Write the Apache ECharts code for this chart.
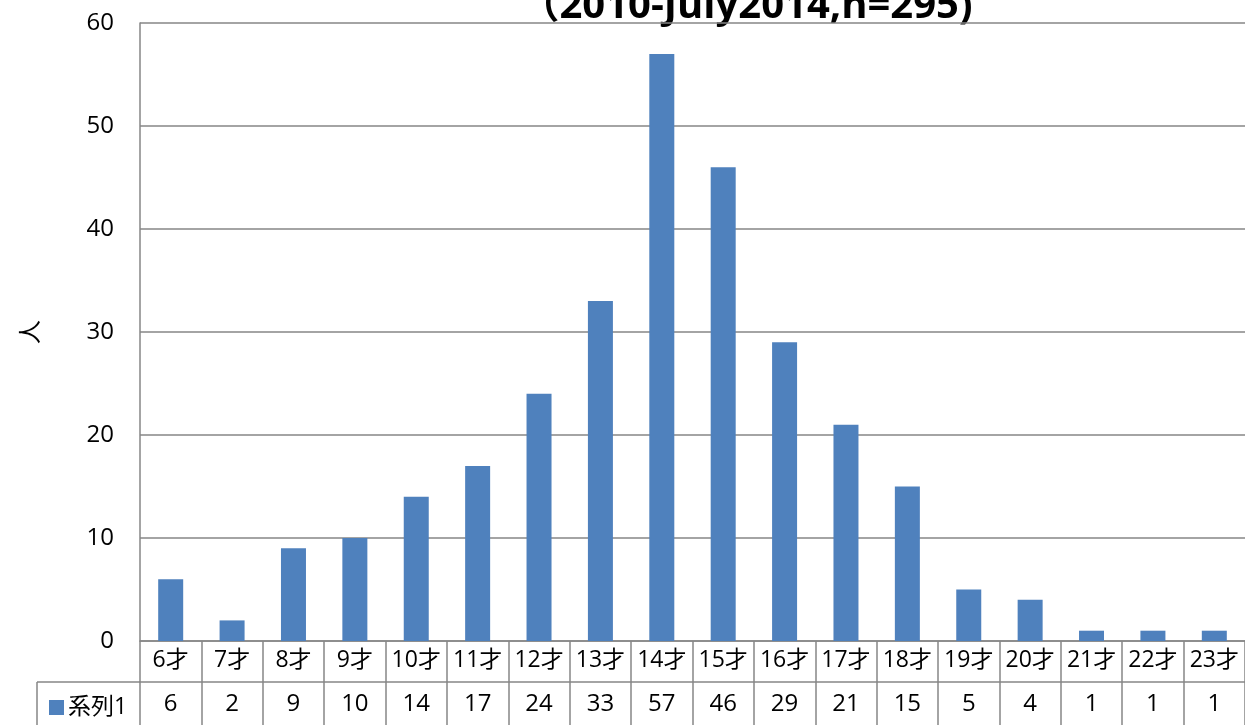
<!DOCTYPE html>
<html>
<head>
<meta charset="utf-8">
<script src="https://cdn.jsdelivr.net/npm/echarts@6/dist/echarts.min.js"></script>
<style>
  html, body { margin: 0; padding: 0; background: #fff; }
  #chart { width: 1245px; height: 725px; }
</style>
</head>
<body>
<div id="chart"></div>
<script>
// 年齢ごとの人数
var ages = ['6才', '7才', '8才', '9才', '10才', '11才', '12才', '13才', '14才',
  '15才', '16才', '17才', '18才', '19才', '20才', '21才', '22才', '23才']
var counts = [6, 2, 9, 10, 14, 17, 24, 33, 57, 46, 29, 21, 15, 5, 4, 1, 1, 1]
var seriesName = '系列1'
var titleText = '（2010-July2014,n=295)'

var lineColor = '#868686'
var font = '"Open Sans", "Noto Sans CJK JP", sans-serif'

var chart = echarts.init(document.getElementById('chart'))
chart.setOption({
  animation: false,
  legend: {
    data: [seriesName],
    left: 44,
    top: 691,
    icon: 'rect',
    itemWidth: 15,
    itemHeight: 15,
    itemGap: 4,
    textStyle: { fontSize: 23, color: '#000', fontFamily: font, padding: [0, 0, 0, -1] }
  },
  grid: { left: 140, right: -5, top: 23, bottom: 84 },
  xAxis: [{
    type: 'category',
    data: ages,
    position: 'bottom',
    axisLine: { show: true, lineStyle: { color: lineColor, width: 1.5 } },
    axisTick: { show: true, interval: 0, length: 84, alignWithLabel: false, lineStyle: { color: lineColor, width: 1.5 } },
    axisLabel: { interval: 0, margin: 8, fontSize: 23, color: '#000', fontFamily: font }
  }, {
    type: 'category',
    data: ages,
    position: 'bottom',
    offset: 41,
    axisLine: { show: true, lineStyle: { color: lineColor, width: 1.5 } },
    axisTick: { show: false },
    axisLabel: {
      interval: 0, margin: 10, fontSize: 24, color: '#000', fontFamily: font,
      formatter: function(v, i) { return String(counts[i]) }
    }
  }],
  yAxis: {
    type: 'value',
    min: 0,
    max: 60,
    interval: 10,
    name: '人',
    nameLocation: 'middle',
    nameRotate: 90,
    nameGap: 97,
    nameTextStyle: { fontSize: 24, color: '#000', fontFamily: font },
    axisLine: { show: true, lineStyle: { color: lineColor, width: 1.5 } },
    axisTick: { show: false },
    axisLabel: { margin: 26, fontSize: 24, color: '#000', fontFamily: font },
    splitLine: { show: true, lineStyle: { color: lineColor, width: 1.5 } }
  },
  series: [{
    name: seriesName,
    type: 'bar',
    data: counts,
    barWidth: 25,
    itemStyle: { color: '#4F81BD' }
  }],
  graphic: [
    // title (second line, the first line is cut off at the top)
    {
      type: 'text', x: 746, y: 7,
      style: {
        text: titleText, align: 'center', verticalAlign: 'middle',
        fontSize: 40, fontWeight: 'bold', fill: '#000', fontFamily: font
      }
    },
    // data table: left cell borders
    { type: 'line', shape: { x1: 37, y1: 682, x2: 140, y2: 682 }, style: { stroke: lineColor, lineWidth: 1.5 } },
    { type: 'line', shape: { x1: 37, y1: 682, x2: 37, y2: 725 }, style: { stroke: lineColor, lineWidth: 1.5 } }
  ]
})
</script>
</body>
</html>
